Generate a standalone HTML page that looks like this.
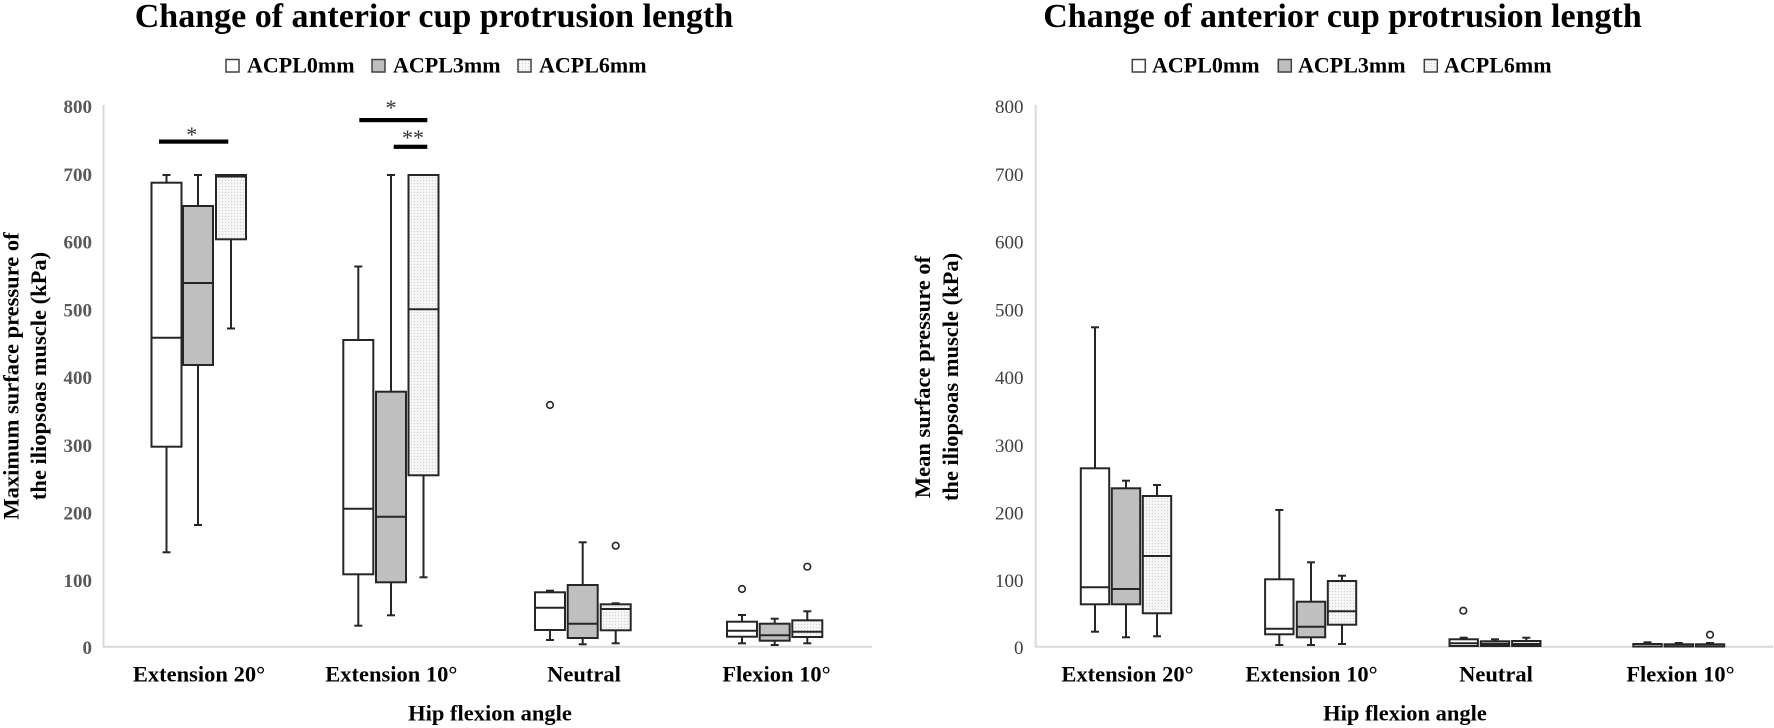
<!DOCTYPE html>
<html>
<head>
<meta charset="utf-8">
<style>
html,body{margin:0;padding:0;background:#fff;}
svg{display:block;}
text{font-family:"Liberation Serif","Times New Roman",serif;}
</style>
</head>
<body>
<svg width="1774" height="728" viewBox="0 0 1774 728" xmlns="http://www.w3.org/2000/svg">
<defs>
<pattern id="dots" width="3" height="3" patternUnits="userSpaceOnUse">
<rect width="3" height="3" fill="#f6f6f6"/>
<rect width="1" height="1" fill="#cfcfcf"/>
</pattern>
</defs>
<rect width="1774" height="728" fill="#fff"/>

<!-- ============ LEFT PANEL ============ -->
<text x="434" y="27" font-size="34" font-weight="bold" text-anchor="middle" fill="#000">Change of anterior cup protrusion length</text>
<g stroke="#404040" stroke-width="1.5">
<rect x="226" y="59.5" width="13" height="12.5" fill="#fff"/>
<rect x="372" y="59.5" width="13" height="12.5" fill="#bfbfbf"/>
<rect x="518" y="59.5" width="13" height="12.5" fill="url(#dots)"/>
</g>
<g font-size="22" font-weight="bold" fill="#000">
<text x="247" y="72.5">ACPL0mm</text>
<text x="393" y="72.5">ACPL3mm</text>
<text x="539" y="72.5">ACPL6mm</text>
</g>
<g font-size="19" font-weight="bold" fill="#595959" text-anchor="end">
<text x="92" y="654">0</text>
<text x="92" y="587">100</text>
<text x="92" y="519.5">200</text>
<text x="92" y="452">300</text>
<text x="92" y="384">400</text>
<text x="92" y="316.5">500</text>
<text x="92" y="248.5">600</text>
<text x="92" y="181">700</text>
<text x="92" y="113">800</text>
</g>
<line x1="103.5" y1="105" x2="103.5" y2="647" stroke="#d9d9d9" stroke-width="2"/>
<line x1="103" y1="646.7" x2="872.3" y2="646.7" stroke="#d9d9d9" stroke-width="2"/>
<g font-size="22.5" font-weight="bold" fill="#000" text-anchor="middle">
<text transform="translate(18.3,376) rotate(-90)">Maximum surface pressure of</text>
<text transform="translate(46,376) rotate(-90)">the iliopsoas muscle (kPa)</text>
</g>
<g font-size="22.5" font-weight="bold" fill="#000" text-anchor="middle">
<text x="199" y="681.5">Extension 20°</text>
<text x="391.3" y="681.5">Extension 10°</text>
<text x="584" y="681.5">Neutral</text>
<text x="776.5" y="681.5">Flexion 10°</text>
<text x="490" y="720.7">Hip flexion angle</text>
</g>

<rect x="159" y="139.5" width="69.3" height="4.2" fill="#000"/>
<rect x="359.3" y="118" width="68" height="4.2" fill="#000"/>
<rect x="393.7" y="144.7" width="33.6" height="4.2" fill="#000"/>
<g font-size="22" fill="#333" text-anchor="middle">
<text x="191.7" y="142">*</text>
<text x="391" y="115">*</text>
<text x="413" y="145">**</text>
</g>

<g stroke="#262626" stroke-width="2" fill="none">
<line x1="166.5" y1="175" x2="166.5" y2="182.7"/><line x1="162.5" y1="175" x2="170.5" y2="175"/>
<line x1="166.5" y1="446.7" x2="166.5" y2="552.3"/><line x1="162.5" y1="552.3" x2="170.5" y2="552.3"/>
<rect x="151.5" y="182.7" width="30" height="264" fill="#fff"/>
<line x1="151.5" y1="337.7" x2="181.5" y2="337.7"/>
<line x1="198" y1="175" x2="198" y2="206"/><line x1="194" y1="175" x2="202" y2="175"/>
<line x1="198" y1="365" x2="198" y2="525"/><line x1="194" y1="525" x2="202" y2="525"/>
<rect x="183" y="206" width="30" height="159" fill="#bfbfbf"/>
<line x1="183" y1="283" x2="213" y2="283"/>
<line x1="231" y1="239.3" x2="231" y2="328.5"/><line x1="227" y1="328.5" x2="235" y2="328.5"/>
<rect x="216" y="175" width="30" height="64.3" fill="url(#dots)"/>
<line x1="216" y1="176" x2="246" y2="176" stroke-width="3"/>
<line x1="358.3" y1="266.5" x2="358.3" y2="340"/><line x1="354.3" y1="266.5" x2="362.3" y2="266.5"/>
<line x1="358.3" y1="574.3" x2="358.3" y2="625.7"/><line x1="354.3" y1="625.7" x2="362.3" y2="625.7"/>
<rect x="343.3" y="340" width="30" height="234.3" fill="#fff"/>
<line x1="343.3" y1="508.7" x2="373.3" y2="508.7"/>
<line x1="391" y1="175" x2="391" y2="391.7"/><line x1="387" y1="175" x2="395" y2="175"/>
<line x1="391" y1="582.3" x2="391" y2="615.3"/><line x1="387" y1="615.3" x2="395" y2="615.3"/>
<rect x="376" y="391.7" width="30" height="190.6" fill="#bfbfbf"/>
<line x1="376" y1="516.7" x2="406" y2="516.7"/>
<line x1="423.5" y1="475.3" x2="423.5" y2="577.3"/><line x1="419.5" y1="577.3" x2="427.5" y2="577.3"/>
<rect x="408.5" y="175" width="30" height="300.3" fill="url(#dots)"/>
<line x1="408.5" y1="309.3" x2="438.5" y2="309.3"/>
<line x1="550" y1="590.7" x2="550" y2="592.3"/><line x1="546" y1="590.7" x2="554" y2="590.7"/>
<line x1="550" y1="630" x2="550" y2="640"/><line x1="546" y1="640" x2="554" y2="640"/>
<rect x="535" y="592.3" width="30" height="37.7" fill="#fff"/>
<line x1="535" y1="607.7" x2="565" y2="607.7"/>
<circle cx="550" cy="405" r="3.3" fill="#fff" stroke-width="1.6"/>
<line x1="582.7" y1="542.3" x2="582.7" y2="585"/><line x1="578.7" y1="542.3" x2="586.7" y2="542.3"/>
<line x1="582.7" y1="638" x2="582.7" y2="644.3"/><line x1="578.7" y1="644.3" x2="586.7" y2="644.3"/>
<rect x="567.7" y="585" width="30" height="53" fill="#bfbfbf"/>
<line x1="567.7" y1="623.7" x2="597.7" y2="623.7"/>
<line x1="611.7" y1="603.3" x2="619.7" y2="603.3"/>
<line x1="615.7" y1="630.3" x2="615.7" y2="643.3"/><line x1="611.7" y1="643.3" x2="619.7" y2="643.3"/>
<rect x="600.7" y="604.3" width="30" height="26" fill="url(#dots)"/>
<line x1="600.7" y1="609" x2="630.7" y2="609"/>
<circle cx="615.7" cy="545.7" r="3.3" fill="#fff" stroke-width="1.6"/>
<line x1="742" y1="615" x2="742" y2="621.7"/><line x1="738" y1="615" x2="746" y2="615"/>
<line x1="742" y1="636.7" x2="742" y2="643.3"/><line x1="738" y1="643.3" x2="746" y2="643.3"/>
<rect x="727" y="621.7" width="30" height="15" fill="#fff"/>
<line x1="727" y1="630.7" x2="757" y2="630.7"/>
<circle cx="742" cy="589" r="3.3" fill="#fff" stroke-width="1.6"/>
<line x1="774.7" y1="618.7" x2="774.7" y2="623.7"/><line x1="770.7" y1="618.7" x2="778.7" y2="618.7"/>
<line x1="774.7" y1="640.7" x2="774.7" y2="645"/><line x1="770.7" y1="645" x2="778.7" y2="645"/>
<rect x="759.7" y="623.7" width="30" height="17" fill="#bfbfbf"/>
<line x1="759.7" y1="635.3" x2="789.7" y2="635.3"/>
<line x1="807.3" y1="611.3" x2="807.3" y2="620.3"/><line x1="803.3" y1="611.3" x2="811.3" y2="611.3"/>
<line x1="807.3" y1="637" x2="807.3" y2="643.3"/><line x1="803.3" y1="643.3" x2="811.3" y2="643.3"/>
<rect x="792.3" y="620.3" width="30" height="16.7" fill="url(#dots)"/>
<line x1="792.3" y1="631.7" x2="822.3" y2="631.7"/>
<circle cx="807.3" cy="566.7" r="3.3" fill="#fff" stroke-width="1.6"/>
</g>

<!-- ============ RIGHT PANEL ============ -->
<text x="1342.5" y="27" font-size="34" font-weight="bold" text-anchor="middle" fill="#000">Change of anterior cup protrusion length</text>
<g stroke="#404040" stroke-width="1.5">
<rect x="1132.3" y="59.5" width="13" height="12.5" fill="#fff"/>
<rect x="1278.3" y="59.5" width="13" height="12.5" fill="#bfbfbf"/>
<rect x="1424.3" y="59.5" width="13" height="12.5" fill="url(#dots)"/>
</g>
<g font-size="22" font-weight="bold" fill="#000">
<text x="1152" y="72.5">ACPL0mm</text>
<text x="1298" y="72.5">ACPL3mm</text>
<text x="1444" y="72.5">ACPL6mm</text>
</g>
<g font-size="19" fill="#404040" text-anchor="end">
<text x="1023.5" y="654">0</text>
<text x="1023.5" y="587">100</text>
<text x="1023.5" y="519.5">200</text>
<text x="1023.5" y="452">300</text>
<text x="1023.5" y="384">400</text>
<text x="1023.5" y="316.5">500</text>
<text x="1023.5" y="248.5">600</text>
<text x="1023.5" y="181">700</text>
<text x="1023.5" y="113">800</text>
</g>
<line x1="1035.7" y1="105" x2="1035.7" y2="647" stroke="#d9d9d9" stroke-width="2"/>
<line x1="1035" y1="646.7" x2="1773" y2="646.7" stroke="#d9d9d9" stroke-width="2"/>
<g font-size="22.5" font-weight="bold" fill="#000" text-anchor="middle">
<text transform="translate(930,377) rotate(-90)">Mean surface pressure of</text>
<text transform="translate(958,377) rotate(-90)">the iliopsoas muscle (kPa)</text>
</g>
<g font-size="22.5" font-weight="bold" fill="#000" text-anchor="middle">
<text x="1127.5" y="681.5">Extension 20°</text>
<text x="1311.5" y="681.5">Extension 10°</text>
<text x="1496" y="681.5">Neutral</text>
<text x="1680.5" y="681.5">Flexion 10°</text>
<text x="1405" y="720.7">Hip flexion angle</text>
</g>

<g stroke="#262626" stroke-width="2" fill="none">
<line x1="1095" y1="327.3" x2="1095" y2="468.3"/><line x1="1091" y1="327.3" x2="1099" y2="327.3"/>
<line x1="1095" y1="604.3" x2="1095" y2="631.7"/><line x1="1091" y1="631.7" x2="1099" y2="631.7"/>
<rect x="1080.8" y="468.3" width="28.4" height="136" fill="#fff"/>
<line x1="1080.8" y1="587.3" x2="1109.2" y2="587.3"/>
<line x1="1126" y1="480.7" x2="1126" y2="488.3"/><line x1="1122" y1="480.7" x2="1130" y2="480.7"/>
<line x1="1126" y1="604.3" x2="1126" y2="637.3"/><line x1="1122" y1="637.3" x2="1130" y2="637.3"/>
<rect x="1111.8" y="488.3" width="28.4" height="116" fill="#bfbfbf"/>
<line x1="1111.8" y1="589" x2="1140.2" y2="589"/>
<line x1="1157" y1="485" x2="1157" y2="496"/><line x1="1153" y1="485" x2="1161" y2="485"/>
<line x1="1157" y1="613.3" x2="1157" y2="636.3"/><line x1="1153" y1="636.3" x2="1161" y2="636.3"/>
<rect x="1142.8" y="496" width="28.4" height="117.3" fill="url(#dots)"/>
<line x1="1142.8" y1="556" x2="1171.2" y2="556"/>
<line x1="1279.3" y1="510" x2="1279.3" y2="579.3"/><line x1="1275.3" y1="510" x2="1283.3" y2="510"/>
<line x1="1279.3" y1="634.3" x2="1279.3" y2="645"/><line x1="1275.3" y1="645" x2="1283.3" y2="645"/>
<rect x="1265.1" y="579.3" width="28.4" height="55" fill="#fff"/>
<line x1="1265.1" y1="628.7" x2="1293.5" y2="628.7"/>
<line x1="1311" y1="562.3" x2="1311" y2="601.7"/><line x1="1307" y1="562.3" x2="1315" y2="562.3"/>
<line x1="1311" y1="637.3" x2="1311" y2="645"/><line x1="1307" y1="645" x2="1315" y2="645"/>
<rect x="1296.8" y="601.7" width="28.4" height="35.6" fill="#bfbfbf"/>
<line x1="1296.8" y1="626.7" x2="1325.2" y2="626.7"/>
<line x1="1342" y1="575.7" x2="1342" y2="581"/><line x1="1338" y1="575.7" x2="1346" y2="575.7"/>
<line x1="1342" y1="624.7" x2="1342" y2="644"/><line x1="1338" y1="644" x2="1346" y2="644"/>
<rect x="1327.8" y="581" width="28.4" height="43.7" fill="url(#dots)"/>
<line x1="1327.8" y1="611.3" x2="1356.2" y2="611.3"/>
<line x1="1463.7" y1="637.7" x2="1463.7" y2="639.3"/><line x1="1459.7" y1="637.7" x2="1467.7" y2="637.7"/>
<rect x="1449.5" y="639.3" width="28.4" height="6.7" fill="#fff"/>
<line x1="1449.5" y1="643.3" x2="1477.9" y2="643.3"/>
<circle cx="1463.3" cy="610.7" r="3.3" fill="#fff" stroke-width="1.6"/>
<line x1="1495" y1="639.3" x2="1495" y2="641.3"/><line x1="1491" y1="639.3" x2="1499" y2="639.3"/>
<rect x="1480.8" y="641.3" width="28.4" height="4.7" fill="#bfbfbf"/>
<line x1="1480.8" y1="644" x2="1509.2" y2="644"/>
<line x1="1526.3" y1="637.7" x2="1526.3" y2="641"/><line x1="1522.3" y1="637.7" x2="1530.3" y2="637.7"/>
<rect x="1512.1" y="641" width="28.4" height="5" fill="url(#dots)"/>
<line x1="1512.1" y1="644" x2="1540.5" y2="644"/>
<line x1="1643.5" y1="642.3" x2="1651.5" y2="642.3"/>
<rect x="1633.3" y="644" width="28.4" height="2.5" fill="#fff"/>
<line x1="1674.8" y1="643" x2="1682.8" y2="643"/>
<rect x="1664.6" y="644.3" width="28.4" height="2.2" fill="#bfbfbf"/>
<line x1="1706" y1="643" x2="1714" y2="643"/>
<rect x="1695.8" y="644.3" width="28.4" height="2.2" fill="url(#dots)"/>
<circle cx="1710" cy="634.7" r="3.3" fill="#fff" stroke-width="1.6"/>
</g>
</svg>
</body>
</html>
